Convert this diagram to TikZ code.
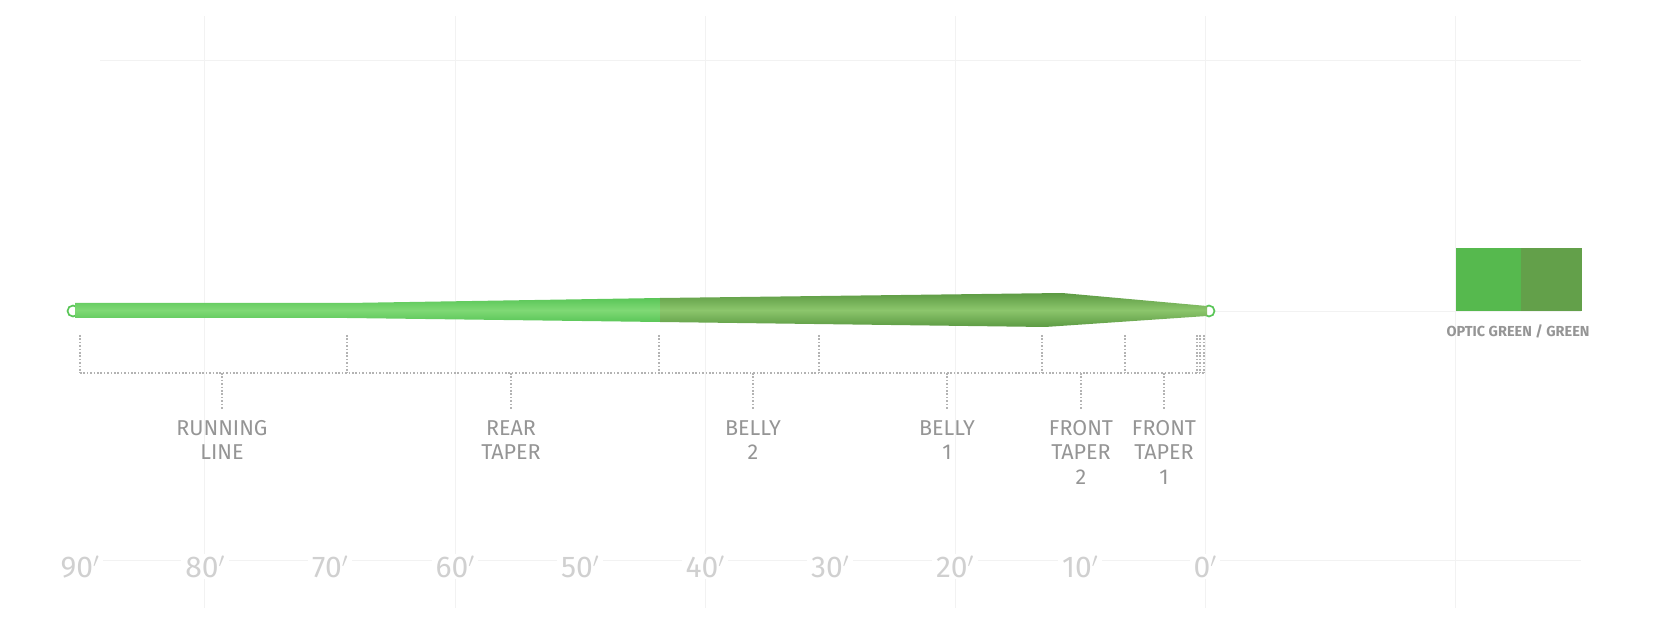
\documentclass[tikz,border=0pt]{standalone}
\usepackage{fontspec}
\setmainfont{Fira Sans}
\definecolor{gridc}{HTML}{F2F2F2}
\definecolor{dotc}{HTML}{B3B3B3}
\definecolor{labc}{HTML}{959595}
\definecolor{distc}{HTML}{D0D0D0}
\definecolor{swL}{HTML}{56B94E}
\definecolor{swR}{HTML}{63A04A}
\definecolor{runE}{HTML}{5AC658}
\definecolor{runM}{HTML}{7FD975}
\definecolor{belE}{HTML}{5C9A43}
\definecolor{belM}{HTML}{8CC66C}
\begin{document}
\begin{tikzpicture}[x=1pt,y=-1pt,
  grid/.style={draw=gridc, line width=0.9pt},
  dotl/.style={draw=dotc, line width=1.1pt, dash pattern=on 1.6pt off 1.8pt},
  seglabel/.style={align=center, text=labc, font=\fontsize{21.5}{24.5}\selectfont, inner sep=0pt, anchor=north},
  dist/.style={text=distc, font=\fontsize{30}{30}\selectfont, fill=white, inner xsep=4pt, inner ysep=2pt, anchor=base},
  loopc/.style={draw=runE, line width=1.7pt, fill=white, circle, minimum size=11pt, inner sep=0pt}
]
\useasboundingbox (0,0) rectangle (1658,644);
% background grid
\foreach \gx in {204,455,705,955,1205,1455} \draw[grid] (\gx,16) -- (\gx,608);
\foreach \gy in {60,311,560} \draw[grid] (100,\gy) -- (1581,\gy);
% end loops
\node[loopc] (lloop) at (73,311) {};
\node[loopc] (rloop) at (1209,311) {};
% fly line: running line + rear taper
\shade[top color=runE, bottom color=runE, middle color=runM]
  (75,303) -- (347,303) -- (660,298) -- (660,322) -- (347,318) -- (75,318) -- cycle;
% belly + front taper
\shade[top color=belE, bottom color=belE, middle color=belM]
  (660,298) -- (1062,293) -- (1207,306) -- (1207,316) -- (1045,327) -- (660,322) -- cycle;
% dimension ticks
\foreach \n/\tx in {t1/80,t2/347,t3/659,t4/819,t5/1042,t6/1125,t7/1197,t8/1200,t9/1204}{
  \coordinate (\n a) at (\tx,335);
  \coordinate (\n b) at (\tx,373);
  \draw[dotl] (\n a) -- (\n b);
}
\draw[dotl] (t1b) -- (t9b);
% segment labels
\node[seglabel] (rl)  at (222,420) {RUNNING\\LINE};
\node[seglabel] (rt)  at (511,420) {REAR\\TAPER};
\node[seglabel] (b2)  at (753,420) {BELLY\\2};
\node[seglabel] (b1)  at (947,420) {BELLY\\1};
\node[seglabel] (ft2) at (1081,420) {FRONT\\TAPER\\2};
\node[seglabel] (ft1) at (1164,420) {FRONT\\TAPER\\1};
\foreach \lab in {rl,rt,b2,b1,ft2,ft1}{
  \coordinate (\lab top) at (\lab.north |- t1b);
  \draw[dotl] (\lab top) -- ([yshift=10pt]\lab.north);
}
% distance labels
\foreach \d [count=\i from 0] in {90,80,70,60,50,40,30,20,10,0}{
  \node[dist] (d\d) at ({80+125*\i},577) {\d$'$};
}
% swatch
\fill[swL] (1456,248) rectangle (1521,311);
\fill[swR] (1521,248) rectangle (1582,311);
\node[inner sep=0pt, minimum width=126pt, minimum height=63pt, anchor=north west] (sw) at (1456,248) {};
\node[text=labc, font=\fontsize{14.5}{15}\bfseries\selectfont, inner sep=0pt] (swl) at (1518,331) {OPTIC GREEN / GREEN};
\end{tikzpicture}
\end{document}
